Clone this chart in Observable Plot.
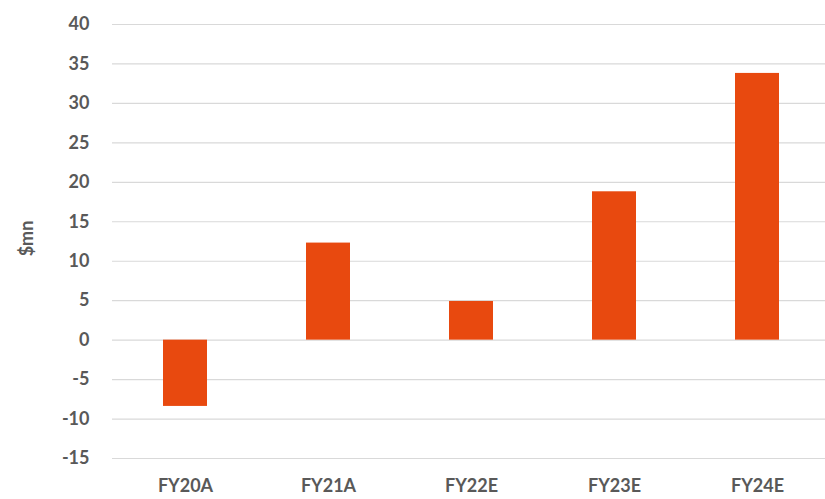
<!DOCTYPE html>
<html>
<head>
<meta charset="utf-8">
<script src="https://cdn.jsdelivr.net/npm/d3@7"></script>
<script src="https://cdn.jsdelivr.net/npm/@observablehq/plot@0.6"></script>
<style>
  html, body { margin: 0; padding: 0; background: #fff; }
  #chart svg { display: block; }
</style>
</head>
<body>
<div id="chart"></div>
<script>
const categories = ["FY20A", "FY21A", "FY22E", "FY23E", "FY24E"];
const values = [-8.4, 12.3, 4.9, 18.8, 33.8];
const yTicks = [-15, -10, -5, 0, 5, 10, 15, 20, 25, 30, 35, 40];
const yLabel = "$mn";

const data = categories.map((c, i) => ({ category: c, value: values[i] }));

const chart = Plot.plot({
  width: 825,
  height: 499,
  marginTop: 24,
  marginBottom: 41,
  marginLeft: 112,
  marginRight: 0,
  style: { fontFamily: "Lato, 'Open Sans', sans-serif", fontSize: "18px", color: "#595959", background: "#fff" },
  x: { domain: categories, range: [112, 830], paddingInner: 0.69, paddingOuter: 0.344, label: null },
  y: { domain: [-15, 40], ticks: yTicks, label: null },
  marks: [
    Plot.ruleY(yTicks, { stroke: "#d9d9d9", strokeWidth: 1.2 }),
    Plot.barY(data, { x: "category", y: "value", fill: "#E8490F" }),
    Plot.axisY({ ticks: yTicks, tickSize: 0, tickPadding: 23, tickFormat: d => String(d), fontWeight: "bold", fill: "#595959", label: null }),
    Plot.axisX({ tickSize: 0, tickPadding: 21, fontWeight: "bold", fill: "#595959", label: null }),
    Plot.text([yLabel], { frameAnchor: "left", textAnchor: "middle", dx: -85, dy: -3, rotate: -90, text: d => d, fontWeight: "bold", fill: "#595959", fontSize: 18 })
  ]
});
document.getElementById("chart").appendChild(chart);
</script>
</body>
</html>
